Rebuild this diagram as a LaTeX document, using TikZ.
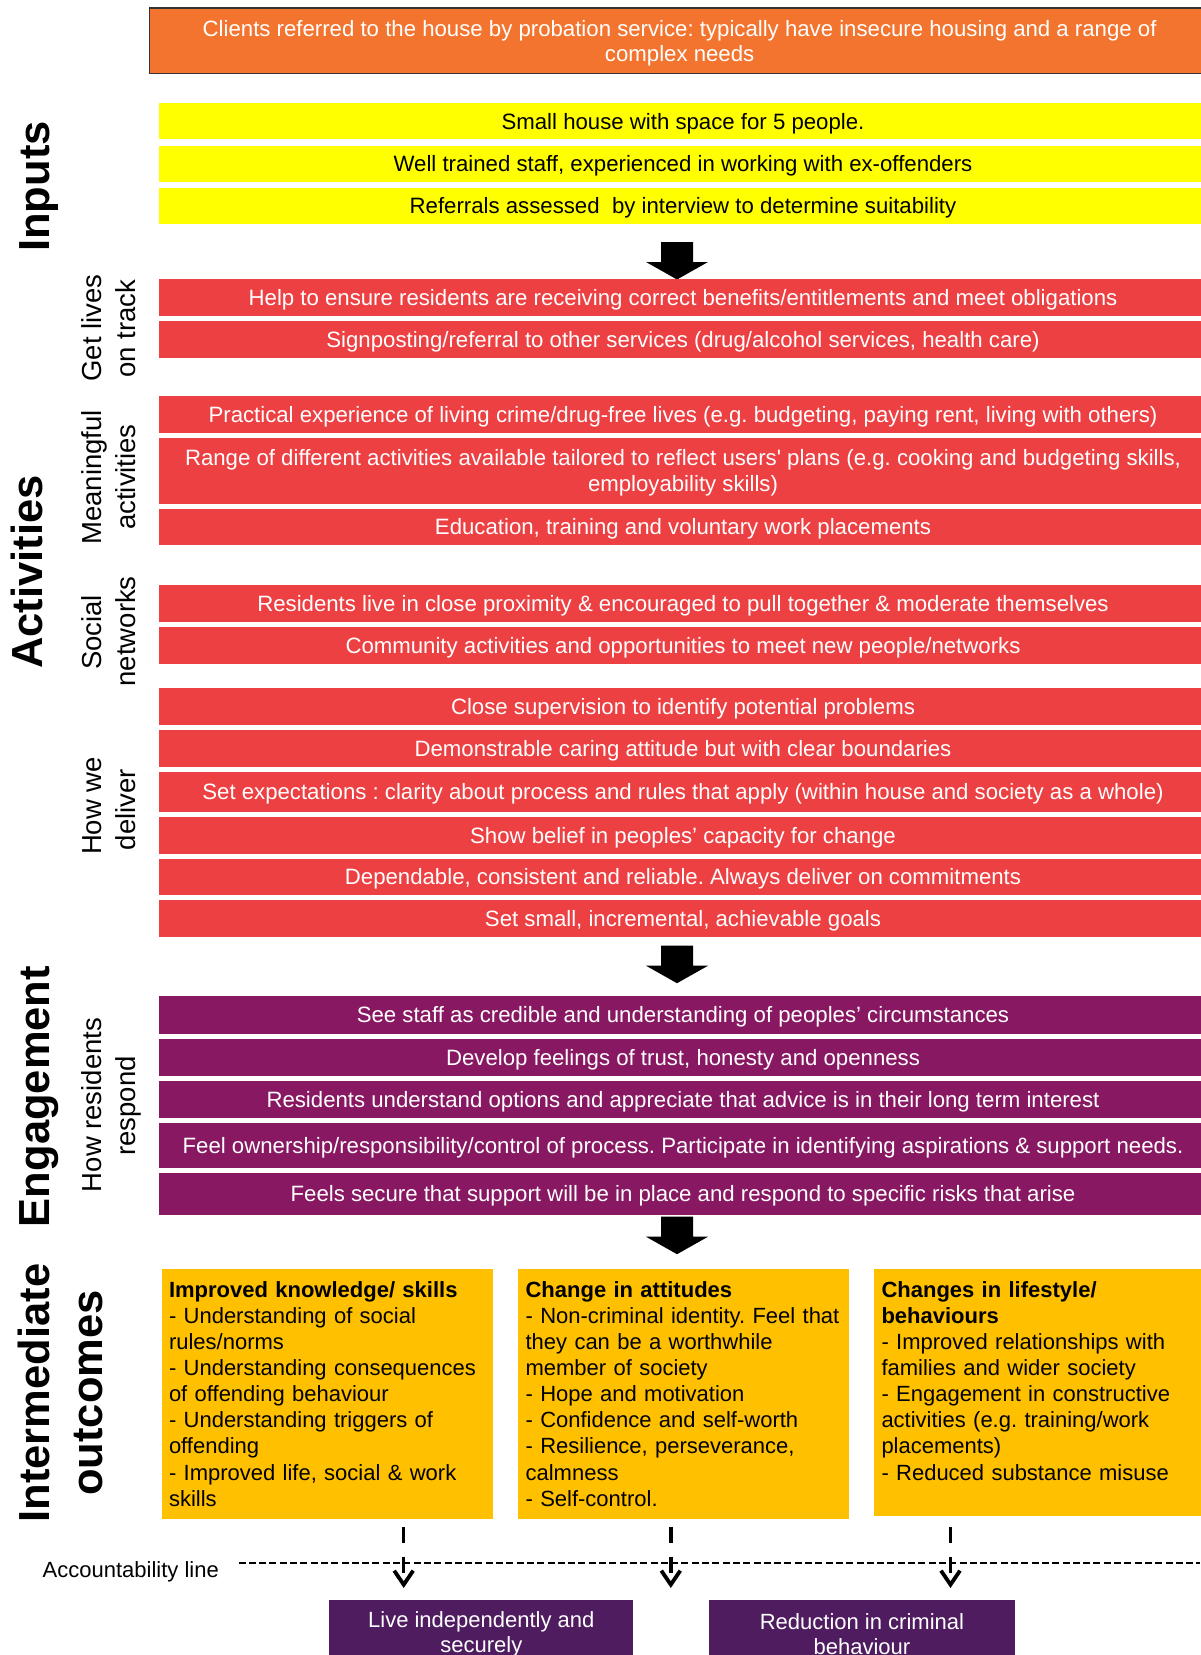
\documentclass[tikz,border=0pt]{standalone}
\usepackage{fontspec}
\newfontfamily\arial{Liberation Sans}
\usetikzlibrary{arrows.meta}
\definecolor{topor}{RGB}{243,116,46}
\definecolor{inyel}{RGB}{255,255,0}
\definecolor{actred}{RGB}{237,64,67}
\definecolor{engpur}{RGB}{136,24,98}
\definecolor{outgold}{RGB}{255,192,0}
\definecolor{finpur}{RGB}{79,28,96}
\frenchspacing
\begin{document}
\begin{tikzpicture}[x=1pt,y=-1pt,
  rowbox/.style={rectangle, inner sep=0pt, outer sep=0pt, anchor=north west,
    minimum width=1048pt, align=center,
    font=\arial\frenchspacing\fontsize{22.2}{26}\selectfont},
  oneline/.style={text height=16pt, text depth=0pt},
  inbox/.style={rowbox, oneline, fill=inyel, text=black},
  actbox/.style={rowbox, oneline, fill=actred, text=white},
  actboxtwo/.style={rowbox, fill=actred, text=white},
  engbox/.style={rowbox, oneline, fill=engpur, text=white},
  outbox/.style={rectangle, inner sep=0pt, outer sep=0pt, anchor=north west, fill=outgold},
  outtext/.style={anchor=base west, inner sep=0pt, text width=324pt, align=left,
    font=\arial\frenchspacing\fontsize{22}{26.1}\selectfont},
  finbox/.style={rectangle, inner sep=0pt, outer sep=0pt, anchor=north west,
    fill=finpur, text=white, align=center, minimum height=65pt,
    font=\arial\fontsize{22}{25}\selectfont},
  biglab/.style={rotate=90, anchor=base, inner sep=0pt,
    font=\arial\bfseries\fontsize{43.5}{50}\selectfont},
  sublab/.style={rotate=90, anchor=base, inner sep=0pt,
    font=\arial\fontsize{27.5}{32}\selectfont},
  darr/.style={line width=3.4pt, dash pattern=on 16pt off 14pt,
    -{Straight Barb[length=14pt,width=19pt,line width=3.8pt]}},
  accline/.style={line width=2pt, dash pattern=on 7pt off 3.3pt},
  blockarrow/.pic={\fill[black] (-16,0) -- (16,0) -- (16,20) -- (31,20)
    -- (0,37.5) -- (-31,20) -- (-16,20) -- cycle;}
]
\useasboundingbox (0,0) rectangle (1200,1655);
\fill[white] (0,0) rectangle (1200,1655);

% top box
\node[rectangle, anchor=north west, inner sep=0pt, draw=black!80, line width=1.3pt,
  fill=topor, text=white, minimum width=1060pt, minimum height=65.4pt,
  align=center, font=\arial\frenchspacing\fontsize{22.2}{25}\selectfont] (clients) at (149,7.4)
  {\rule{0pt}{22pt}Clients referred to the house by probation service: typically have insecure housing and a range of\\complex needs};

% inputs
\node[inbox, minimum height=36pt] (in1) at (159,103.4) {Small house with space for 5 people.};
\node[inbox, minimum height=36pt] (in2) at (159,145.6) {Well trained staff, experienced in working with ex-offenders};
\node[inbox, minimum height=36pt] (in3) at (159,187.9) {Referrals assessed\ \ by interview to determine suitability};

\pic (ar1) at (677,242) {blockarrow};

% activities
\node[actbox, minimum height=37pt] (r1) at (159,279) {Help to ensure residents are receiving correct benefits/entitlements and meet obligations};
\node[actbox, minimum height=36.7pt] (r2) at (159,321) {Signposting/referral to other services (drug/alcohol services, health care)};
\node[actbox, minimum height=36.7pt] (r3) at (159,396) {Practical experience of living crime/drug-free lives (e.g. budgeting, paying rent, living with others)};
\node[actboxtwo, minimum height=65.7pt] (r4) at (159,438) {\rule{0pt}{19pt}Range of different activities available tailored to reflect users' plans (e.g. cooking and budgeting skills,\\employability skills)};
\node[actbox, minimum height=35.7pt] (r5) at (159,509) {Education, training and voluntary work placements};
\node[actbox, minimum height=36.7pt] (r6) at (159,585) {Residents live in close proximity \& encouraged to pull together \& moderate themselves};
\node[actbox, minimum height=36.7pt] (r7) at (159,627) {Community activities and opportunities to meet new people/networks};
\node[actbox, minimum height=36.7pt] (r8) at (159,688) {Close supervision to identify potential problems};
\node[actbox, minimum height=36.7pt] (r9) at (159,730) {Demonstrable caring attitude but with clear boundaries};
\node[actbox, minimum height=39.7pt] (r10) at (159,772) {Set expectations : clarity about process and rules that apply (within house and society as a whole)};
\node[actbox, minimum height=36.7pt] (r11) at (159,817) {Show belief in peoples’ capacity for change};
\node[actbox, minimum height=35.7pt] (r12) at (159,859) {Dependable, consistent and reliable. Always deliver on commitments};
\node[actbox, minimum height=36.7pt] (r13) at (159,900) {Set small, incremental, achievable goals};

\pic (ar2) at (677,945.7) {blockarrow};

% engagement
\node[engbox, minimum height=37.7pt] (p1) at (159,996) {See staff as credible and understanding of peoples’ circumstances};
\node[engbox, minimum height=36.7pt] (p2) at (159,1039) {Develop feelings of trust, honesty and openness};
\node[engbox, minimum height=36.7pt] (p3) at (159,1081) {Residents understand options and appreciate that advice is in their long term interest};
\node[engbox, minimum height=44.7pt] (p4) at (159,1123) {Feel ownership/responsibility/control of process. Participate in identifying aspirations \& support needs.};
\node[engbox, minimum height=41.7pt] (p5) at (159,1173) {Feels secure that support will be in place and respond to specific risks that arise};

\pic (ar3) at (677,1216.7) {blockarrow};

% outcomes
\node[outbox, minimum width=330.6pt, minimum height=249.7pt] (o1) at (161.9,1269) {};
\node[outbox, minimum width=331.3pt, minimum height=249.7pt] (o2) at (517.8,1269) {};
\node[outbox, minimum width=340pt, minimum height=247pt] (o3) at (874,1269) {};
\node[outtext] (o1t) at (168.8,1297.3) {\textbf{Improved knowledge/ skills}\\
- Understanding of social\\rules/norms\\- Understanding consequences\\of offending behaviour\\
- Understanding triggers of\\offending\\- Improved life, social \& work\\skills};
\node[outtext] (o2t) at (525.4,1297.3) {\textbf{Change in attitudes}\\
- Non-criminal identity. Feel that\\they can be a worthwhile\\member of society\\- Hope and motivation\\
- Confidence and self-worth\\- Resilience, perseverance,\\calmness\\- Self-control.};
\node[outtext] (o3t) at (881.3,1297.3) {\textbf{Changes in lifestyle/}\\\textbf{behaviours}\\
- Improved relationships with\\families and wider society\\- Engagement in constructive\\
activities (e.g. training/work\\placements)\\- Reduced substance misuse};

% accountability line
\node[anchor=base west, inner sep=0pt, font=\arial\fontsize{22}{26}\selectfont] (acc) at (42.5,1577.3) {Accountability line};
\coordinate (accs) at (238.5,1562.7);
\coordinate (acce) at (1200,1562.7);
\draw[accline] (accs) -- (acce);

% dashed arrows
\coordinate (d1s) at (403.7,1526.5);
\coordinate (d1e) at (403.7,1588);
\coordinate (d2s) at (670.8,1526.5);
\coordinate (d2e) at (670.8,1588);
\coordinate (d3s) at (950.5,1526.5);
\coordinate (d3e) at (950.5,1588);
\draw[darr] (d1s) -- (d1e);
\draw[darr] (d2s) -- (d2e);
\draw[darr] (d3s) -- (d3e);

% final outcomes
\node[finbox, minimum width=304pt] (f1) at (329.3,1600) {\rule{0pt}{20pt}Live independently and\\securely};
\node[finbox, minimum width=305.5pt] (f2) at (709.2,1600) {\rule{0pt}{20pt}Reduction in criminal\\behaviour};

% left labels
\node[biglab] (linputs) at (49.3,186.5) {Inputs};
\node[biglab] (lact) at (42,572) {Activities};
\node[biglab] (leng) at (49,1096.5) {Engagement};
\node[biglab] (lint1) at (49,1393) {Intermediate};
\node[biglab] (lint2) at (102.5,1393) {outcomes};

\node[sublab] (sg1) at (101,328) {Get lives};
\node[sublab] (sg2) at (135.5,328.5) {on track};
\node[sublab] (sm1) at (101,477.5) {Meaningful};
\node[sublab] (sm2) at (135.5,477) {activities};
\node[sublab] (ss1) at (101,632.5) {Social};
\node[sublab] (ss2) at (135.5,631.3) {networks};
\node[sublab] (sh1) at (101,806) {How we};
\node[sublab] (sh2) at (135.5,809.7) {deliver};
\node[sublab] (sr1) at (101,1105) {How residents};
\node[sublab] (sr2) at (135.5,1106) {respond};
\end{tikzpicture}
\end{document}
